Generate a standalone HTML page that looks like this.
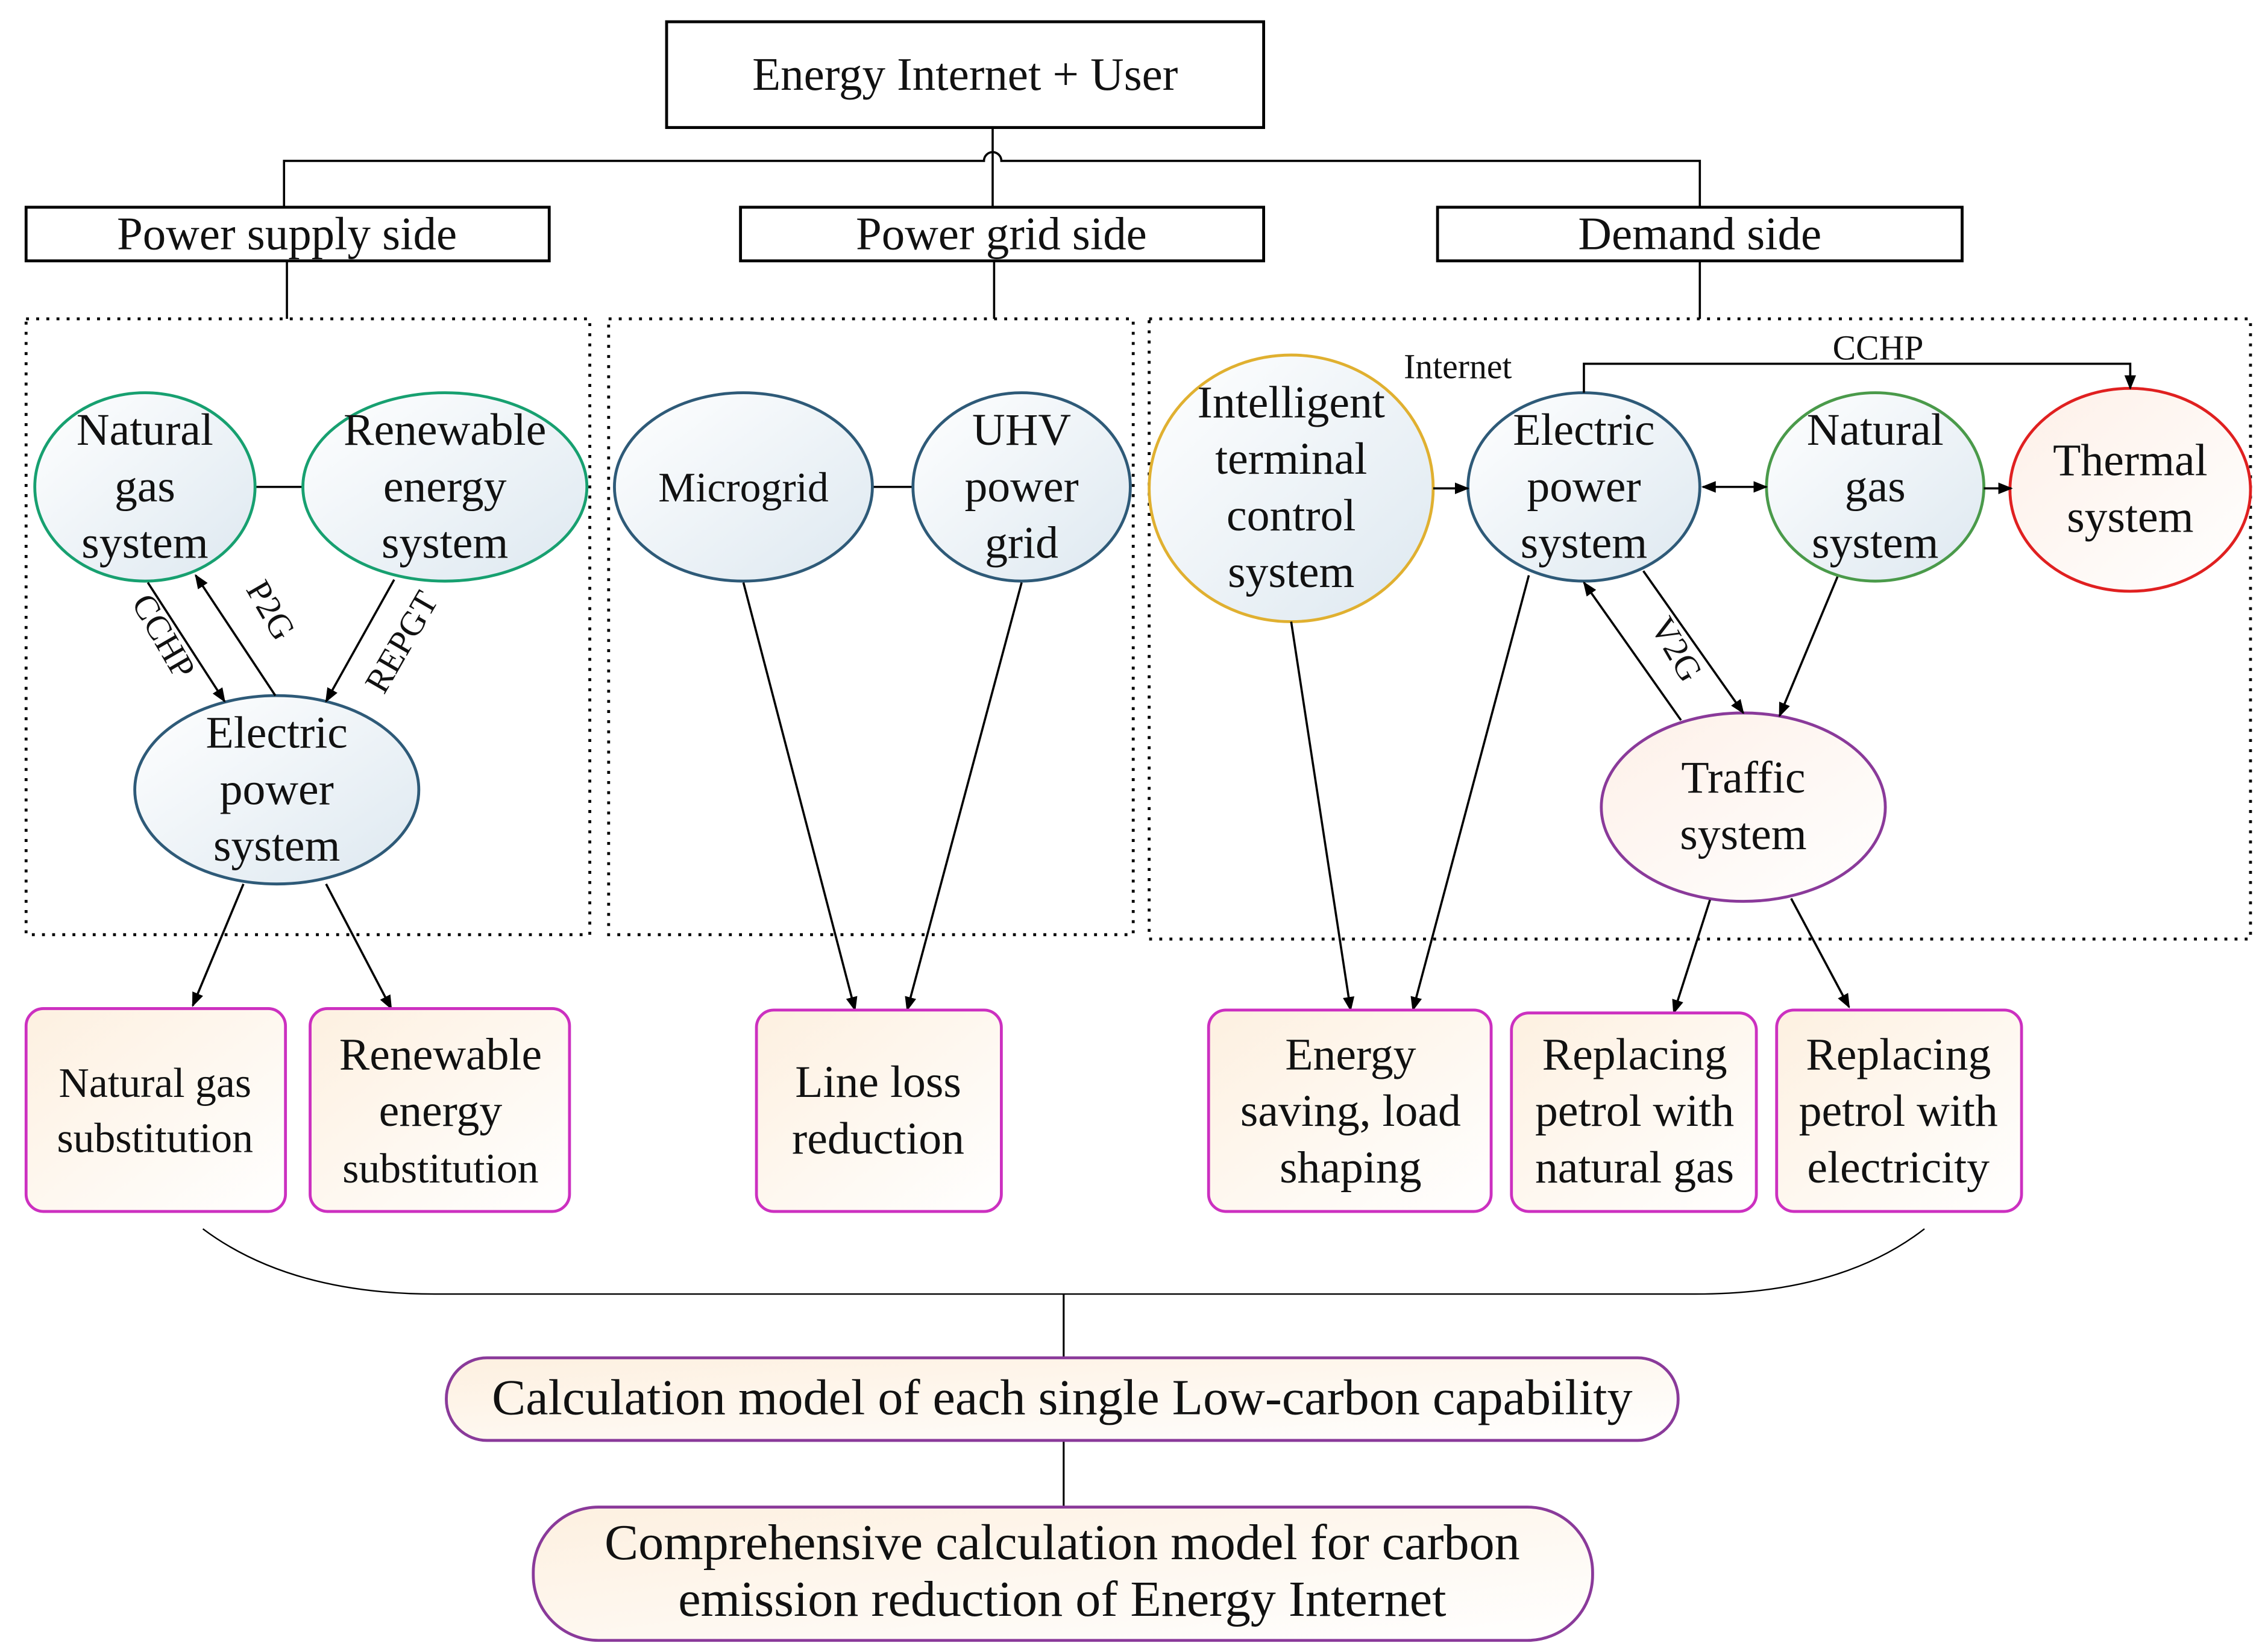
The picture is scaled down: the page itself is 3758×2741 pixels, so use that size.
<!DOCTYPE html>
<html><head><meta charset="utf-8"><style>
html,body{margin:0;padding:0;background:#fff}
svg{display:block}
text{font-family:"Liberation Serif",serif;fill:#111}
</style></head><body>
<svg width="3758" height="2741" viewBox="0 0 1563 1140" xmlns="http://www.w3.org/2000/svg">
<defs>
<marker id="a" markerWidth="10" markerHeight="10" refX="9" refY="5" orient="auto" markerUnits="userSpaceOnUse"><path d="M0,1 L10,5 L0,9 z" fill="#000"/></marker>
<marker id="s" markerWidth="10" markerHeight="10" refX="1" refY="5" orient="auto" markerUnits="userSpaceOnUse"><path d="M10,1 L0,5 L10,9 z" fill="#000"/></marker>
<linearGradient id="bg" x1="0" y1="0" x2="1" y2="1"><stop offset="0" stop-color="#fff"/><stop offset="1" stop-color="#dde8f0"/></linearGradient>
<linearGradient id="pg" x1="0" y1="0" x2="1" y2="1"><stop offset="0" stop-color="#fdf0e0"/><stop offset="1" stop-color="#fff"/></linearGradient>
<linearGradient id="tg" x1="0" y1="0" x2="1" y2="1"><stop offset="0" stop-color="#fdf0e8"/><stop offset="1" stop-color="#fff"/></linearGradient>
</defs>
<g stroke="#000" fill="none" stroke-width="1.5">
<rect x="460" y="15" width="412" height="73" stroke-width="2"/>
<path d="M196,143 V111 H679 A6,6 0 0 1 691,111 H1173 V143"/>
<path d="M685,88 V143"/>
<rect x="18" y="143" width="361" height="37" stroke-width="2"/>
<rect x="511" y="143" width="361" height="37" stroke-width="2"/>
<rect x="992" y="143" width="362" height="37" stroke-width="2"/>
<path d="M198,180 V220 M686,180 V220 M1173,180 V220"/>
<g stroke-dasharray="2,5" stroke-width="2">
<rect x="18" y="220" width="389" height="425"/>
<rect x="420" y="220" width="362" height="425"/>
<rect x="793" y="220" width="760" height="428"/>
</g>
<path d="M176,336 H209 M602,336 H630"/>
</g>
<g stroke-width="2">
<ellipse cx="100" cy="336" rx="76" ry="65" fill="url(#bg)" stroke="#17a070"/>
<ellipse cx="307" cy="336" rx="98" ry="65" fill="url(#bg)" stroke="#17a070"/>
<ellipse cx="191" cy="545" rx="98" ry="65" fill="url(#bg)" stroke="#2e5a78"/>
<ellipse cx="513" cy="336" rx="89" ry="65" fill="url(#bg)" stroke="#2e5a78"/>
<ellipse cx="705" cy="336" rx="75" ry="65" fill="url(#bg)" stroke="#2e5a78"/>
<ellipse cx="891" cy="337" rx="98" ry="92" fill="url(#bg)" stroke="#e0b030"/>
<ellipse cx="1093" cy="336" rx="80" ry="65" fill="url(#bg)" stroke="#2e5a78"/>
<ellipse cx="1294" cy="336" rx="75" ry="65" fill="url(#bg)" stroke="#4a9a4a"/>
<ellipse cx="1470" cy="338" rx="83" ry="70" fill="url(#tg)" stroke="#e02020"/>
<ellipse cx="1203" cy="557" rx="98" ry="65" fill="url(#tg)" stroke="#8a3a9a"/>
</g>
<g stroke="#000" stroke-width="1.5" fill="none" marker-end="url(#a)">
<path d="M102,402 L155,484"/>
<path d="M190,480 L135,397"/>
<path d="M272,400 L225,484"/>
<path d="M989,337 L1013,337"/>
<path d="M1175,336 L1219,336" marker-start="url(#s)"/>
<path d="M1369,337 L1388,337"/>
<path d="M1093,271 V251 H1470 V268"/>
<path d="M1134,394 L1203,492"/>
<path d="M1160,497 L1093,402"/>
<path d="M1268,398 L1228,494"/>
<path d="M168,610 L133,694"/>
<path d="M225,610 L270,696"/>
<path d="M513,402 L590,697"/>
<path d="M705,402 L626,697"/>
<path d="M891,429 L932,697"/>
<path d="M1055,397 L975,697"/>
<path d="M1180,621 L1155,699"/>
<path d="M1236,620 L1276,695"/>
</g>
<g stroke="#cc30c0" stroke-width="2" fill="url(#pg)">
<rect x="18" y="696" width="179" height="140" rx="12"/>
<rect x="214" y="696" width="179" height="140" rx="12"/>
<rect x="522" y="697" width="169" height="139" rx="12"/>
<rect x="834" y="697" width="195" height="139" rx="12"/>
<rect x="1043" y="699" width="169" height="137" rx="12"/>
<rect x="1226" y="697" width="169" height="139" rx="12"/>
</g>
<g stroke="#000" stroke-width="1" fill="none">
<path d="M140,848 Q200,893 300,893 H1170 Q1270,893 1328,848"/>
<path d="M734,893 V937 M734,994 V1040" stroke-width="1.3"/>
</g>
<rect x="308" y="937" width="850" height="57" rx="28" fill="url(#pg)" stroke="#8a3a9a" stroke-width="2"/>
<rect x="368" y="1040" width="731" height="92" rx="45" fill="url(#pg)" stroke="#8a3a9a" stroke-width="2"/>
<g font-size="31.5" text-anchor="middle">
<text x="666" y="62" font-size="32">Energy Internet + User</text>
<text x="198" y="172" font-size="32">Power supply side</text>
<text x="691" y="172" font-size="32">Power grid side</text>
<text x="1173" y="172" font-size="32">Demand side</text>
<text x="100" y="307">Natural</text><text x="100" y="346">gas</text><text x="100" y="385">system</text>
<text x="307" y="307">Renewable</text><text x="307" y="346">energy</text><text x="307" y="385">system</text>
<text x="191" y="516">Electric</text><text x="191" y="555">power</text><text x="191" y="594">system</text>
<text x="513" y="346" font-size="29">Microgrid</text>
<text x="705" y="307">UHV</text><text x="705" y="346">power</text><text x="705" y="385">grid</text>
<text x="891" y="288">Intelligent</text><text x="891" y="327">terminal</text><text x="891" y="366">control</text><text x="891" y="405">system</text>
<text x="1093" y="307">Electric</text><text x="1093" y="346">power</text><text x="1093" y="385">system</text>
<text x="1294" y="307">Natural</text><text x="1294" y="346">gas</text><text x="1294" y="385">system</text>
<text x="1470" y="328">Thermal</text><text x="1470" y="367">system</text>
<text x="1203" y="547">Traffic</text><text x="1203" y="586">system</text>
<text x="107" y="757" font-size="29">Natural gas</text><text x="107" y="795" font-size="29">substitution</text>
<text x="304" y="738">Renewable</text><text x="304" y="777">energy</text><text x="304" y="816" font-size="29">substitution</text>
<text x="606" y="757">Line loss</text><text x="606" y="796">reduction</text>
<text x="932" y="738">Energy</text><text x="932" y="777">saving, load</text><text x="932" y="816">shaping</text>
<text x="1128" y="738">Replacing</text><text x="1128" y="777">petrol with</text><text x="1128" y="816">natural gas</text>
<text x="1310" y="738">Replacing</text><text x="1310" y="777">petrol with</text><text x="1310" y="816">electricity</text>
<text x="733" y="976" font-size="35">Calculation model of each single Low-carbon  capability</text>
<text x="733" y="1076" font-size="35">Comprehensive calculation model for carbon</text>
<text x="733" y="1115" font-size="35">emission reduction of Energy Internet</text>
</g>
<g font-size="24" text-anchor="middle">
<text x="1006" y="261">Internet</text>
<text x="1296" y="248">CCHP</text>
<text transform="translate(106,443) rotate(60)">CCHP</text>
<text transform="translate(180,425) rotate(60)">P2G</text>
<text transform="translate(284,447) rotate(-60)">REPGT</text>
<text transform="translate(1150,452) rotate(60)">V2G</text>
</g>
</svg>
</body></html>
